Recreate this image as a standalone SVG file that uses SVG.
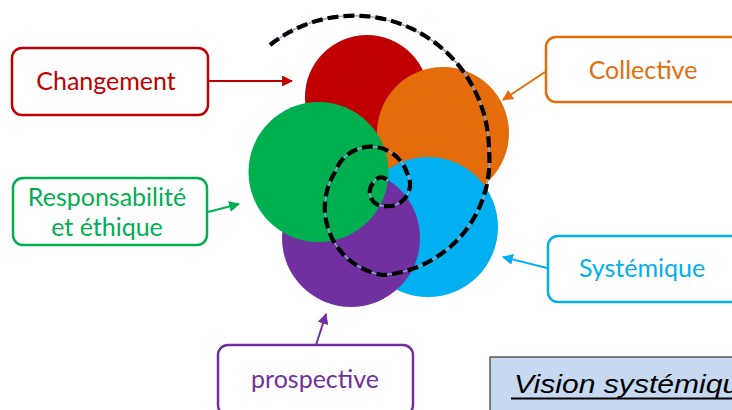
<svg xmlns="http://www.w3.org/2000/svg" width="732" height="410" viewBox="0 0 732 410">
<defs>
<style>
.box{fill:#fff;stroke-width:2.5}
.lbl{font-family:Lato,"Open Sans","Liberation Sans",sans-serif;font-size:25px;text-anchor:middle}
.arr{stroke-width:2;fill:none}
.sp{fill:none}
</style>
<marker id="mR" viewBox="0 0 10 10" refX="9" refY="5" markerWidth="5.5" markerHeight="5.5" orient="auto"><path d="M0,0 L10,5 L0,10 Z" fill="#C00000"/></marker>
<marker id="mO" viewBox="0 0 10 10" refX="9" refY="5" markerWidth="5.5" markerHeight="5.5" orient="auto"><path d="M0,0 L10,5 L0,10 Z" fill="#E46C0A"/></marker>
<marker id="mG" viewBox="0 0 10 10" refX="9" refY="5" markerWidth="5.5" markerHeight="5.5" orient="auto"><path d="M0,0 L10,5 L0,10 Z" fill="#00B050"/></marker>
<marker id="mB" viewBox="0 0 10 10" refX="9" refY="5" markerWidth="5.5" markerHeight="5.5" orient="auto"><path d="M0,0 L10,5 L0,10 Z" fill="#00B0F0"/></marker>
<marker id="mP" viewBox="0 0 10 10" refX="9" refY="5" markerWidth="5.5" markerHeight="5.5" orient="auto"><path d="M0,0 L10,5 L0,10 Z" fill="#7030A0"/></marker>
</defs>
<rect width="732" height="410" fill="#fff"/>
<g id="flower">
<circle cx="367" cy="97" r="62" fill="#C00000"/>
<circle cx="443" cy="133" r="66" fill="#E46C0A"/>
<circle cx="428" cy="227" r="70" fill="#00B0F0"/>
<circle cx="351" cy="238" r="69" fill="#7030A0"/>
<circle cx="318.5" cy="172" r="70" fill="#00B050"/>
</g>
<g id="spiral">
<path class="sp" d="M270,45 A135,135 0 0 1 489,150 A115,115 0 0 1 383,275 A68,68 0 0 1 335,172 A38,38 0 0 1 407,173 A22,22 0 0 1 385,206 A14,14 0 0 1 374,182 A8,8 0 0 1 388,181" stroke="#8EA9C8" stroke-width="1.5"/>
<path class="sp" d="M270,45 A135,135 0 0 1 489,150 A115,115 0 0 1 383,275 A68,68 0 0 1 335,172 A38,38 0 0 1 407,173 A22,22 0 0 1 385,206 A14,14 0 0 1 374,182 A8,8 0 0 1 388,181" stroke="#000" stroke-width="4.2" stroke-dasharray="11 5"/>
</g>
<g id="n-changement">
<rect class="box" x="12" y="48" width="196" height="67" rx="10" stroke="#C00000"/>
<text class="lbl" x="106" y="90" fill="#C00000">Changement</text>
</g>
<g id="n-collective">
<rect class="box" x="546" y="37" width="200" height="65" rx="10" stroke="#E46C0A"/>
<text class="lbl" x="643" y="79" fill="#E46C0A">Collective</text>
</g>
<g id="n-responsabilite">
<rect class="box" x="13" y="178" width="194" height="67" rx="10" stroke="#00B050"/>
<text class="lbl" x="107" y="206" fill="#00B050">Responsabilité</text>
<text class="lbl" x="107" y="236" fill="#00B050">et éthique</text>
</g>
<g id="n-systemique">
<rect class="box" x="548" y="236" width="200" height="66" rx="10" stroke="#00B0F0"/>
<text class="lbl" x="642" y="277" fill="#00B0F0">Systémique</text>
</g>
<g id="n-prospective">
<rect class="box" x="218" y="345" width="195" height="70" rx="10" stroke="#7030A0"/>
<text class="lbl" x="315" y="388" fill="#7030A0">prospective</text>
</g>
<g id="n-vision">
<rect x="490" y="357" width="250" height="60" fill="#C6D9F1" stroke="#333" stroke-width="1.2"/>
<text x="514" y="393" font-family="'Liberation Sans',Arial,sans-serif" font-size="26" font-style="italic" fill="#000" textLength="242" lengthAdjust="spacingAndGlyphs">Vision systémique</text>
<line x1="511" y1="398.5" x2="735" y2="398.5" stroke="#000" stroke-width="2"/>
</g>
<g id="connectors">
<line class="arr" x1="208" y1="81" x2="292" y2="81" stroke="#C00000" marker-end="url(#mR)"/>
<line class="arr" x1="545" y1="72" x2="503" y2="100" stroke="#E46C0A" marker-end="url(#mO)"/>
<line class="arr" x1="208" y1="212" x2="239" y2="204" stroke="#00B050" marker-end="url(#mG)"/>
<line class="arr" x1="547" y1="268" x2="503" y2="257" stroke="#00B0F0" marker-end="url(#mB)"/>
<line class="arr" x1="316" y1="345" x2="326" y2="314" stroke="#7030A0" marker-end="url(#mP)"/>
</g>
</svg>
